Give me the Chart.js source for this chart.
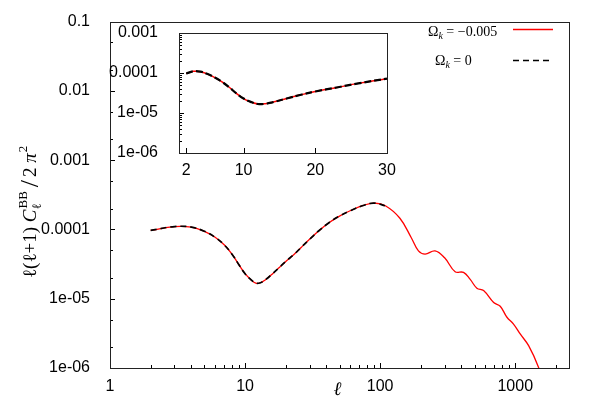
<!DOCTYPE html>
<html>
<head>
<meta charset="utf-8">
<script src="https://cdn.jsdelivr.net/npm/chart.js@4"></script>
<style>
  html, body { margin: 0; padding: 0; background: #fff; }
  #wrap { position: relative; width: 590px; height: 413px; }
  #mainChart { position: absolute; left: 0; top: 0; }
  #insetChart { position: absolute; left: 100px; top: 10px; }
</style>
</head>
<body>
<div id="wrap">
  <canvas id="mainChart" width="590" height="413"></canvas>
  <canvas id="insetChart" width="300" height="170"></canvas>
</div>
<script>
// ===================== data =====================
const ell = [2, 3, 4, 5, 6, 7, 8, 9, 10, 11, 12, 13, 14, 16, 18, 20, 23, 26, 30, 35,
  42, 50, 60, 75, 90, 110, 140, 170, 192, 215, 255, 300, 359, 414, 464, 520, 583,
  692, 774, 868, 971, 1088, 1256, 1489, 1560];

// Omega_k = -0.005 (red)
const clCurved = [9.7e-5, 1.10e-4, 1.08e-4, 9.4e-5, 7.7e-5, 6.0e-5, 4.4e-5, 3.1e-5, 2.3e-5, 1.9e-5,
  1.68e-5, 1.70e-5, 1.85e-5, 2.3e-5, 2.85e-5, 3.45e-5, 4.35e-5, 5.5e-5, 7.2e-5, 9.5e-5,
  1.26e-4, 1.56e-4, 1.86e-4, 2.22e-4, 2.40e-4, 2.18e-4, 1.45e-4, 7.6e-5, 4.9e-5, 4.4e-5,
  4.9e-5, 3.9e-5, 2.45e-5, 2.4e-5, 1.9e-5, 1.42e-5, 1.31e-5, 8.8e-6, 7.8e-6, 5.4e-6,
  4.3e-6, 3.1e-6, 2.1e-6, 1.02e-6, 7.0e-7];

// Omega_k = 0 (black dashed), only visible up to the first peak
const clFlat = [9.7e-5, 1.10e-4, 1.08e-4, 9.4e-5, 7.7e-5, 6.0e-5, 4.4e-5, 3.1e-5, 2.3e-5, 1.9e-5,
  1.68e-5, 1.70e-5, 1.85e-5, 2.3e-5, 2.85e-5, 3.45e-5, 4.35e-5, 5.5e-5, 7.2e-5, 9.5e-5,
  1.26e-4, 1.56e-4, 1.86e-4, 2.22e-4, 2.40e-4, 2.18e-4];

const seriesNames = ['−0.005', '0'];

const mainXTicks = [1, 10, 100, 1000];
const mainXLabels = ['1', '10', '100', '1000'];
const mainYTicks = [0.1, 0.01, 0.001, 0.0001, 1e-5, 1e-6];
const mainYLabels = ['0.1', '0.01', '0.001', '0.0001', '1e-05', '1e-06'];

const insetXTicks = [2, 10, 20, 30];
const insetXLabels = ['2', '10', '20', '30'];
const insetYTicks = [0.001, 0.0001, 1e-5, 1e-6];
const insetYLabels = ['0.001', '0.0001', '1e-05', '1e-06'];

// ===================== helpers =====================
function toPoints(xs, ys) {
  return ys.map((y, i) => ({ x: xs[i], y: y }));
}

function logMinors(fromExp, toExp, mults) {
  const out = [];
  for (let e = fromExp; e <= toExp; e++) {
    mults.forEach(m => out.push(m * Math.pow(10, e)));
  }
  return out;
}

function drawTicks(ctx, chart, axis, values, len) {
  const scale = chart.scales[axis];
  const a = chart.chartArea;
  ctx.beginPath();
  values.forEach(v => {
    if (v < scale.min || v > scale.max) return;
    const p = Math.round(scale.getPixelForValue(v)) + 0.5;
    if (axis === 'x') { ctx.moveTo(p, a.bottom); ctx.lineTo(p, a.bottom - len); }
    else { ctx.moveTo(a.left, p); ctx.lineTo(a.left + len, p); }
  });
  ctx.stroke();
}

// frame box + inward tick marks
const framePlugin = {
  id: 'frame',
  beforeDraw(chart) {
    const a = chart.chartArea;
    const ctx = chart.ctx;
    ctx.save();
    ctx.fillStyle = '#fff';
    ctx.fillRect(a.left, a.top, a.right - a.left, a.bottom - a.top);
    ctx.restore();
  },
  afterDraw(chart, args, opts) {
    const a = chart.chartArea;
    const ctx = chart.ctx;
    ctx.save();
    ctx.strokeStyle = '#000';
    ctx.lineWidth = 1;
    drawTicks(ctx, chart, 'x', opts.xMajor, 5);
    drawTicks(ctx, chart, 'x', opts.xMinor, 3);
    drawTicks(ctx, chart, 'y', opts.yMajor, 5);
    drawTicks(ctx, chart, 'y', opts.yMinor, 3);
    ctx.strokeStyle = '#222';
    ctx.strokeRect(Math.round(a.left) + 0.5, Math.round(a.top) + 0.5,
      Math.round(a.right - a.left), Math.round(a.bottom - a.top));
    ctx.restore();
  }
};

// axis titles + key for the main panel
const textPlugin = {
  id: 'mainText',
  afterDraw(chart) {
    const ctx = chart.ctx;
    const a = chart.chartArea;
    const serif = '"Liberation Serif", "DejaVu Serif", serif';
    ctx.save();
    ctx.fillStyle = '#000';

    // x title
    ctx.font = 'italic 19px ' + serif;
    ctx.textAlign = 'center';
    ctx.textBaseline = 'middle';
    ctx.fillText('ℓ', (a.left + a.right) / 2 - 2, 390);

    // y title, rotated
    ctx.translate(36, 205);
    ctx.rotate(-Math.PI / 2);
    ctx.textAlign = 'left';
    ctx.textBaseline = 'alphabetic';
    let x = -73;
    ctx.font = '19px ' + serif;
    ctx.fillText('ℓ(ℓ+1) ', x, 0);
    x += ctx.measureText('ℓ(ℓ+1) ').width;
    ctx.font = 'italic 19px ' + serif;
    ctx.fillText('C', x, 0);
    x += ctx.measureText('C').width;
    ctx.font = '13px ' + serif;
    ctx.fillText('ℓ', x, 5);
    ctx.fillText('BB', x + 1, -9);
    x += ctx.measureText('BB').width + 5;
    ctx.font = '26px ' + serif;
    ctx.fillText('/', x, 2);
    x += ctx.measureText('/').width + 3;
    ctx.font = '19px ' + serif;
    ctx.fillText('2', x, 0);
    x += ctx.measureText('2 ').width;
    ctx.font = 'italic 19px ' + serif;
    ctx.fillText('π', x, 0);
    x += ctx.measureText('π').width + 1;
    ctx.font = '13px ' + serif;
    ctx.fillText('2', x, -9);
    ctx.restore();

    // key
    ctx.save();
    const rows = [
      { text: seriesNames[0], tx: 428, ty: 36, ly: 29.5, color: '#ff0000', dash: [] , lw: 1.3 },
      { text: seriesNames[1], tx: 435, ty: 65, ly: 60.5, color: '#000', dash: [6, 4], lw: 1.6 }
    ];
    rows.forEach(r => {
      ctx.fillStyle = '#000';
      ctx.textAlign = 'left';
      ctx.textBaseline = 'alphabetic';
      let tx = r.tx;
      ctx.font = '14px ' + serif;
      ctx.fillText('Ω', tx, r.ty);
      tx += ctx.measureText('Ω').width;
      ctx.font = 'italic 10px ' + serif;
      ctx.fillText('k', tx, r.ty + 3);
      tx += ctx.measureText('k').width;
      ctx.font = '14px ' + serif;
      ctx.fillText(' = ' + r.text, tx, r.ty);
      ctx.beginPath();
      ctx.strokeStyle = r.color;
      ctx.lineWidth = r.lw;
      ctx.setLineDash(r.dash);
      ctx.moveTo(513, r.ly);
      ctx.lineTo(553, r.ly);
      ctx.stroke();
    });
    ctx.restore();
  }
};

const tickFont = { family: '"Liberation Sans", Arial, sans-serif', size: 16 };

// ===================== main chart =====================
new Chart(document.getElementById('mainChart'), {
  type: 'line',
  data: {
    datasets: [
      {
        label: seriesNames[1],
        data: toPoints(ell, clFlat),
        borderColor: '#000',
        borderWidth: 1.7,
        borderDash: [6, 4],
        pointRadius: 0,
        tension: 0.4
      },
      {
        label: seriesNames[0],
        data: toPoints(ell, clCurved),
        borderColor: '#ff0000',
        borderWidth: 1.3,
        pointRadius: 0,
        tension: 0.4
      }
    ]
  },
  options: {
    responsive: false,
    animation: false,
    layout: { padding: { top: 16, right: 21, left: 0, bottom: 0 } },
    plugins: {
      legend: { display: false },
      tooltip: { enabled: false },
      frame: {
        xMajor: mainXTicks,
        xMinor: logMinors(0, 3, [2, 3, 4, 5, 6, 7, 8, 9]),
        yMajor: mainYTicks,
        yMinor: logMinors(-6, -2, [2, 5])
      }
    },
    scales: {
      x: {
        type: 'logarithmic',
        min: 1,
        max: 2500,
        grid: { display: false },
        border: { display: false },
        afterBuildTicks: s => { s.ticks = mainXTicks.map(v => ({ value: v })); },
        afterFit: s => { s.height = 45; },
        ticks: {
          font: tickFont, color: '#000', padding: 1, maxRotation: 0, autoSkip: false,
          callback: (v, i) => mainXLabels[i]
        }
      },
      y: {
        type: 'logarithmic',
        min: 1e-6,
        max: 0.1,
        grid: { display: false },
        border: { display: false },
        afterBuildTicks: s => { s.ticks = mainYTicks.map(v => ({ value: v })); },
        afterFit: s => { s.width = 110; },
        ticks: {
          font: tickFont, color: '#000', padding: 12, autoSkip: false,
          callback: (v, i) => mainYLabels[i]
        }
      }
    }
  },
  plugins: [framePlugin, textPlugin]
});

// ===================== inset =====================
new Chart(document.getElementById('insetChart'), {
  type: 'line',
  data: {
    datasets: [
      {
        label: seriesNames[1],
        data: toPoints(ell, clFlat),
        borderColor: '#000',
        borderWidth: 2.2,
        borderDash: [7, 3],
        pointRadius: 0,
        tension: 0.4
      },
      {
        label: seriesNames[0],
        data: toPoints(ell, clCurved),
        borderColor: '#ff0000',
        borderWidth: 1.5,
        pointRadius: 0,
        tension: 0.4
      }
    ]
  },
  options: {
    responsive: false,
    animation: false,
    layout: { padding: { top: 23, right: 13, left: 0, bottom: 0 } },
    plugins: {
      legend: { display: false },
      tooltip: { enabled: false },
      frame: {
        xMajor: insetXTicks,
        xMinor: [],
        yMajor: insetYTicks,
        yMinor: logMinors(-6, -4, [2, 3, 4, 5, 6, 7, 8, 9])
      }
    },
    scales: {
      x: {
        type: 'linear',
        min: 1,
        max: 30,
        grid: { display: false },
        border: { display: false },
        afterBuildTicks: s => { s.ticks = insetXTicks.map(v => ({ value: v })); },
        afterFit: s => { s.height = 27; },
        ticks: {
          font: tickFont, color: '#000', padding: 0, maxRotation: 0, autoSkip: false,
          callback: (v, i) => insetXLabels[i]
        }
      },
      y: {
        type: 'logarithmic',
        min: 1e-6,
        max: 0.001,
        grid: { display: false },
        border: { display: false },
        afterBuildTicks: s => { s.ticks = insetYTicks.map(v => ({ value: v })); },
        afterFit: s => { s.width = 79; },
        ticks: {
          font: tickFont, color: '#000', padding: 13, autoSkip: false,
          callback: (v, i) => insetYLabels[i]
        }
      }
    }
  },
  plugins: [framePlugin]
});
</script>
</body>
</html>
